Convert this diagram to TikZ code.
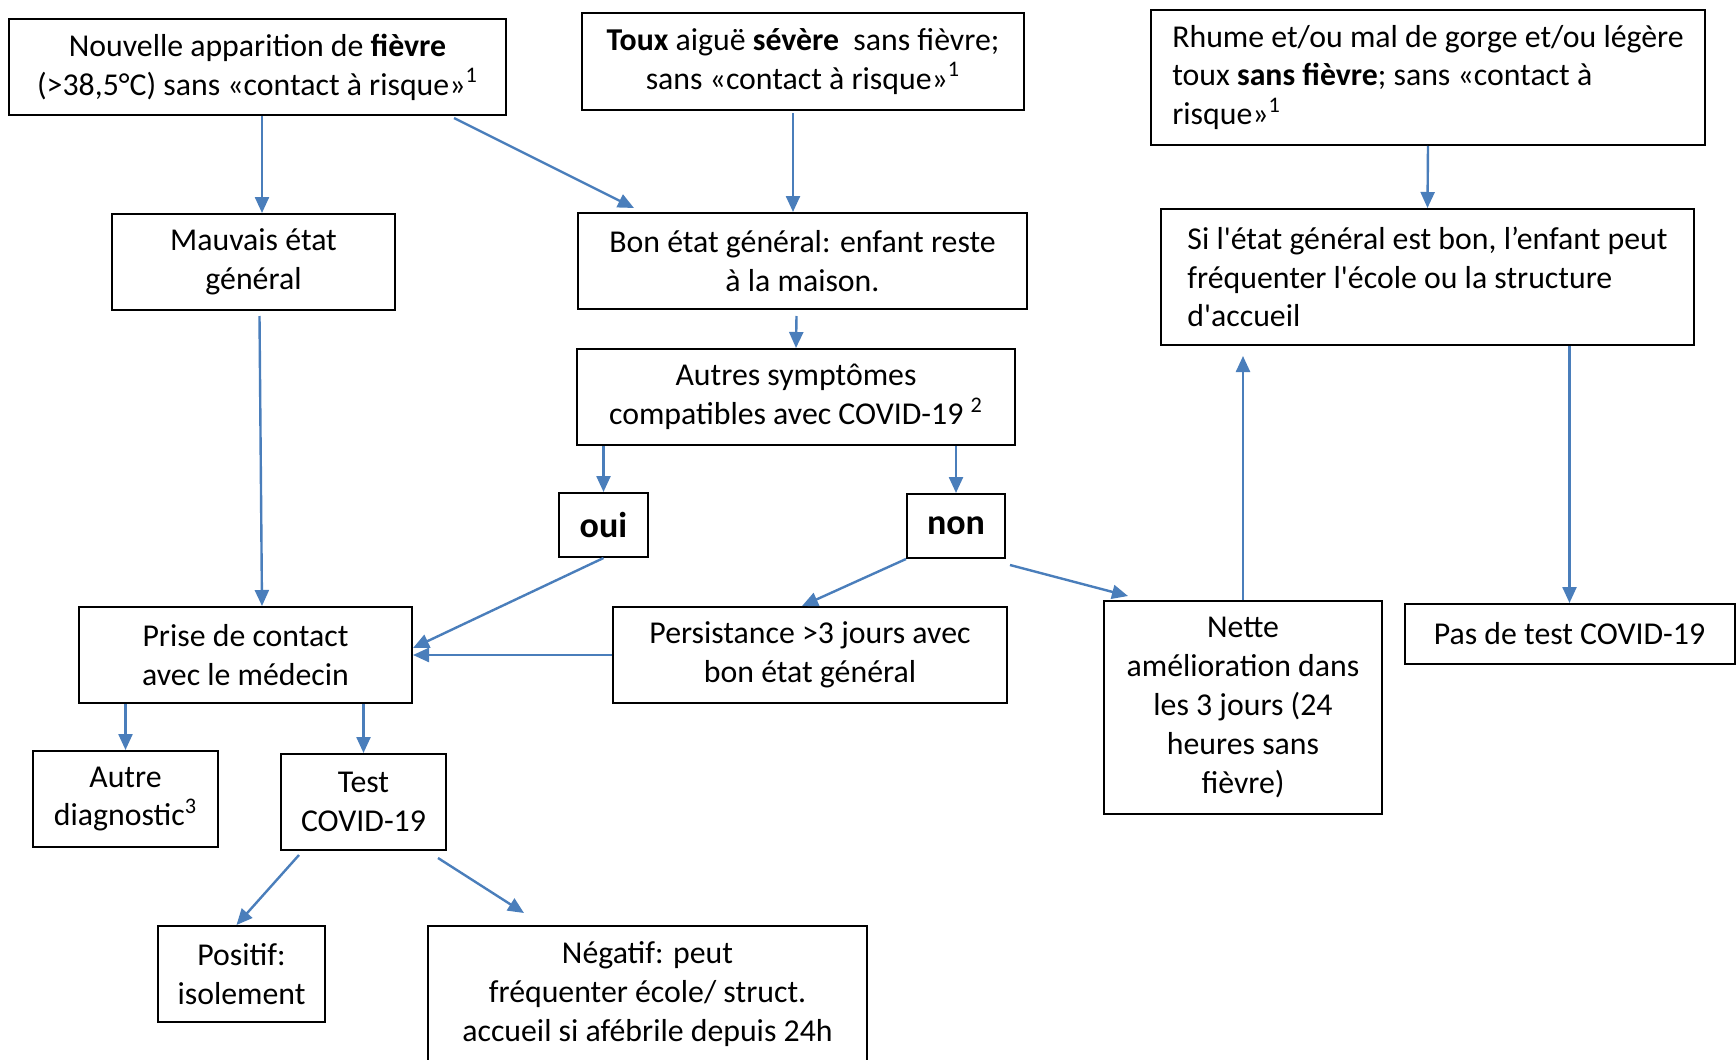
\documentclass[tikz,border=0pt]{standalone}
\usepackage{fontspec}
\setmainfont{Carlito}[Ligatures=TeXOff]
\usetikzlibrary{arrows.meta}
\definecolor{arrblue}{RGB}{74,126,187}
\newcommand{\boxfont}{\fontsize{15.9}{19.4}\selectfont}
\newcommand{\bigbold}{\fontsize{18}{22}\selectfont\bfseries}
\tikzset{
  box/.style={draw=black, line width=1pt, align=center, font=\boxfont, inner sep=0pt},
  arr/.style={draw=arrblue, line width=1.2pt, -{Triangle[length=8pt,width=7pt]}},
}

\begin{document}
\begin{tikzpicture}[x=0.5pt, y=-0.5pt]
\useasboundingbox (0,0) rectangle (1736,1060);

% top row
\node[box, minimum width=248.5pt, minimum height=48pt] (fievre) at (257.5,67) {Nouvelle apparition de \textbf{fièvre}\\(>38,5°C) sans «contact à risque»\textsuperscript{1}};
\node[box, minimum width=221pt, minimum height=48.5pt] (toux) at (803,61.5) {\textbf{Toux} aiguë \textbf{sévère}\ \ sans fièvre;\\sans «contact à risque»\textsuperscript{1}};
\node[box, minimum width=277pt, minimum height=67.5pt, align=left] (rhume) at (1428,77.5) {Rhume et/ou mal de gorge et/ou légère\\toux \textbf{sans fièvre}; sans «contact à\\risque»\textsuperscript{1}};

% second row
\node[box, minimum width=141.5pt, minimum height=48pt] (mauvais) at (253.5,262) {Mauvais état\\général};
\node[box, minimum width=224.5pt, minimum height=48pt] (bon) at (802.5,261) {Bon état général: enfant reste\\à la maison.};
\node[box, minimum width=266.5pt, minimum height=68pt, align=left] (sibon) at (1427.5,277) {Si l'état général est bon, l’enfant peut\\fréquenter l'école ou la structure\\d'accueil};

\node[box, minimum width=219pt, minimum height=48pt] (autres) at (796,397) {Autres symptômes\\compatibles avec COVID-19 \textsuperscript{2}};
\node[box, minimum width=44.5pt, minimum height=32pt, font=\bigbold] (oui) at (603.5,525) {oui};
\node[box, minimum width=49pt, minimum height=32pt, font=\bigbold] (non) at (956,526) {non};

% third row
\node[box, minimum width=166.5pt, minimum height=48pt] (prise) at (245.5,655) {Prise de contact\\avec le médecin};
\node[box, minimum width=197pt, minimum height=48pt] (persist) at (810,655) {Persistance >3 jours avec\\bon état général};
\node[box, minimum width=139pt, minimum height=106.5pt] (nette) at (1243,707.5) {Nette\\amélioration dans\\les 3 jours (24\\heures sans\\fièvre)};
\node[box, minimum width=165pt, minimum height=30pt] (pastest) at (1569.5,634) {Pas de test COVID-19};

% bottom
\node[box, minimum width=92.5pt, minimum height=48pt] (autrediag) at (125.5,799) {Autre\\diagnostic\textsuperscript{3}};
\node[box, minimum width=82.5pt, minimum height=48pt] (test) at (363.5,802) {Test\\COVID-19};
\node[box, minimum width=83.5pt, minimum height=48pt] (positif) at (241.5,974) {Positif:\\isolement};
\node[box, minimum width=219.5pt, minimum height=68pt] (negatif) at (647.5,994) {Négatif: peut\\fréquenter école/ struct.\\accueil si afébrile depuis 24h};

% arrows
\draw[arr] ([xshift=2.25pt]fievre.south) -- ([xshift=4.25pt]mauvais.north);
\draw[arr] ([xshift=98.25pt,yshift=-1pt]fievre.south) -- ([xshift=-84.25pt,yshift=2pt]bon.north);
\draw[arr] ([xshift=-5pt,yshift=-1pt]toux.south) -- ([xshift=-4.75pt]bon.north);
\draw[arr] (rhume.south) -- (sibon.north);
\draw[arr] ([xshift=3pt,yshift=-2.5pt]mauvais.south) -- ([xshift=8.25pt]prise.north);
\draw[arr] ([xshift=-3pt,yshift=-3pt]bon.south) -- (autres.north);
\draw[arr] (autres.south -| oui.north) -- (oui.north);
\draw[arr] (autres.south -| non.north) -- (non.north);
\draw[arr] (oui.south) -- ([yshift=3.5pt]prise.east);
\draw[arr] (non.south west) -- ([xshift=-4pt]persist.north);
\draw[arr] ([xshift=2pt,yshift=-3pt]non.south east) -- ([xshift=-57.5pt,yshift=2pt]nette.north);
\draw[arr] (persist.west) -- (prise.east);
\draw[arr, shorten >=5pt] (nette.north) -- (nette.north |- sibon.south);
\draw[arr] (sibon.south -| pastest.north) -- (pastest.north);
\draw[arr] (prise.south -| autrediag.north) -- (autrediag.north);
\draw[arr] (prise.south -| test.north) -- (test.north);
\draw[arr] ([xshift=9.5pt,yshift=-2pt]test.south west) -- ([xshift=-2.5pt]positif.north);
\draw[arr] ([xshift=-4.5pt,yshift=-3.5pt]test.south east) -- ([xshift=-61.75pt,yshift=6pt]negatif.north);

\end{tikzpicture}
\end{document}
